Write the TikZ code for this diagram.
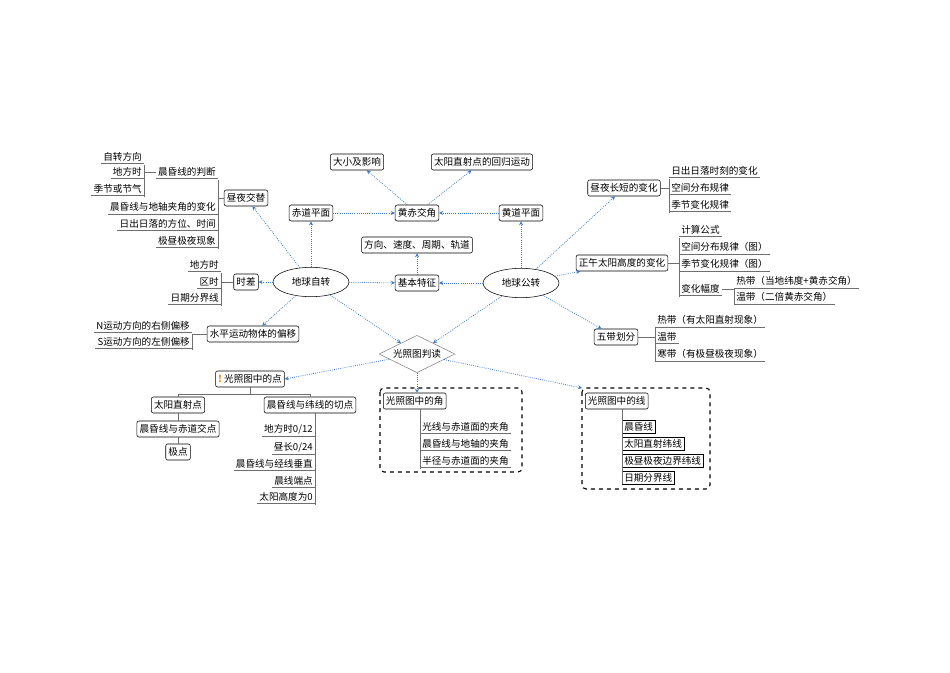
\documentclass[tikz,border=0pt]{standalone}
\usepackage{fontspec}
\setmainfont{Noto Sans CJK SC}
\usetikzlibrary{shapes.geometric,arrows.meta}
\definecolor{linkblue}{RGB}{60,120,200}
\definecolor{treegray}{RGB}{110,110,110}
\begin{document}
\begin{tikzpicture}[x=0.75pt,y=-0.75pt,font=\fontsize{7.2}{8}\selectfont,
  box/.style={draw,rounded corners=1.5pt,inner sep=2pt,minimum height=12pt,fill=white},
  topic/.style={draw,ellipse,minimum width=57pt,minimum height=22pt,inner sep=1pt},
  link/.style={draw=linkblue,densely dotted,semithick,-{Stealth[length=3pt,width=3pt]}},
  tree/.style={draw=treegray},
  leaf/.style={inner sep=1.5pt,append after command={(\tikzlastnode.south west) edge[treegray] (\tikzlastnode.south east)}},
  lbox/.style={draw,inner sep=1.5pt,minimum height=10pt},
  group/.style={draw,dashed,thick,rounded corners=3pt}]
\useasboundingbox (0,0) rectangle (950,672);
% central topics
\node (rot) [topic] at (311,282) {地球自转};
\node (rev) [topic] at (521,283) {地球公转};
\node (basic) [box] at (417,283) {基本特征};
\node (dir) [box] at (417,245) {方向、速度、周期、轨道};
\node (tilt) [box] at (417,213) {黄赤交角};
\node (eqp) [box] at (311,213) {赤道平面};
\node (ecl) [box] at (521,213) {黄道平面};
\node (size) [box] at (357,162) {大小及影响};
\node (subsol) [box] at (482,162) {太阳直射点的回归运动};
\node (dn) [box] at (246,198) {昼夜交替};
\node (tdiff) [box] at (246,282) {时差};
\node (defl) [box] at (253,334) {水平运动物体的偏移};
\node (read) [draw,diamond,aspect=2.1,minimum width=57pt,minimum height=28pt,inner sep=0pt,draw=gray] at (417,354) {光照图判读};
\node (dlen) [box] at (624,188) {昼夜长短的变化};
\node (noon) [box] at (622,263) {正午太阳高度的变化};
\node (zone) [box] at (616,337) {五带划分};
% links
\foreach \a/\b in {rot/dn,rot/eqp,rot/tdiff,rot/defl,rot/basic,rot/read,
  eqp/tilt,ecl/tilt,tilt/size,tilt/subsol,basic/dir,
  rev/basic,rev/ecl,rev/dlen,rev/noon,rev/zone,rev/read}
  \draw[link] (\a) -- (\b);
% left: day and night
\node (judge) [leaf,anchor=east] at (218,172) {晨昏线的判断};
\foreach \t/\y in {自转方向/157,地方时/172,季节或节气/189}
  \node [leaf,anchor=east] at (144,\y) {\t};
\draw[tree] (144,165) -- (144,197);
\draw[tree] (judge.west) -- (144,172);
\foreach \t/\y in {晨昏线与地轴夹角的变化/207,日出日落的方位、时间/224,极昼极夜现象/241}
  \node [leaf,anchor=east] at (218,\y) {\t};
\draw[tree] (218,180) -- (218,249);
\draw[tree] (dn.west) -- (218,198);
% left: time difference
\foreach \t/\y in {地方时/265,区时/282,日期分界线/298}
  \node [leaf,anchor=east] at (221,\y) {\t};
\draw[tree] (221,273) -- (221,306);
\draw[tree] (tdiff.west) -- (221,282);
% left: deflection
\foreach \t/\y in {N运动方向的右侧偏移/326,S运动方向的左侧偏移/342}
  \node [leaf,anchor=east] at (192,\y) {\t};
\draw[tree] (192,334) -- (192,350);
\draw[tree] (defl.west) -- (192,334);
% right: day length
\foreach \t/\y in {日出日落时刻的变化/171,空间分布规律/188,季节变化规律/205}
  \node [leaf,anchor=west] at (669,\y) {\t};
\draw[tree] (669,179) -- (669,213);
\draw[tree] (dlen.east) -- (669,188);
% right: noon sun height
\foreach \t/\y in {计算公式/230,空间分布规律（图）/247,季节变化规律（图）/264}
  \node [leaf,anchor=west] at (679,\y) {\t};
\node (range) [leaf,anchor=west] at (679,289) {变化幅度};
\draw[tree] (679,238) -- (679,297);
\draw[tree] (noon.east) -- (679,263);
\foreach \t/\y in {热带（当地纬度+黄赤交角）/281,温带（二倍黄赤交角）/297}
  \node [leaf,anchor=west] at (734,\y) {\t};
\draw[tree] (734,289) -- (734,305);
\draw[tree] (range.east) -- (734,289);
% right: five zones
\foreach \t/\y in {热带（有太阳直射现象）/320,温带/337,寒带（有极昼极夜现象）/354}
  \node [leaf,anchor=west] at (655,\y) {\t};
\draw[tree] (655,328) -- (655,362);
\draw[tree] (zone.east) -- (655,337);
% points on the map
\node (pts) [box] at (250,379) {\textcolor{orange}{\textbf{!}}\ 光照图中的点};
\node (sp) [box] at (178,405) {太阳直射点};
\node (tang) [box] at (310,405) {晨昏线与纬线的切点};
\node (eqx) [box] at (178,429) {晨昏线与赤道交点};
\node (pole) [box] at (178,452) {极点};
\draw[link] (read) -- (pts.east);
\draw[tree] (pts.south) -- (250,394) -| (sp.north);
\draw[tree] (250,394) -| (tang.north);
\draw[tree] (sp) -- (eqx);
\draw[tree] (eqx) -- (pole);
\foreach \t/\y in {{地方时0/12}/429,{昼长0/24}/447,晨昏线与经线垂直/464,晨线端点/481,太阳高度为0/497}
  \node [leaf,anchor=east] at (315,\y) {\t};
\draw[tree] (tang.south -| 315,0) -- (315,505);
% angles on the map
\draw[group] (380,388) rectangle (522,472);
\node (ang) [box,anchor=west] at (383,401) {光照图中的角};
\draw[link] (read) -- (ang.north -| 417,0);
\foreach \t/\y in {光线与赤道面的夹角/427,晨昏线与地轴的夹角/444,半径与赤道面的夹角/461}
  \node [leaf,anchor=west] at (420,\y) {\t};
\draw[tree] (ang.south -| 420,0) -- (420,469);
% lines on the map
\draw[group] (582,388) rectangle (710,489);
\node (lns) [box,anchor=west] at (585,401) {光照图中的线};
\draw[link] (read) -- (582,388);
\foreach \t/\y in {晨昏线/427,太阳直射纬线/444,极昼极夜边界纬线/461,日期分界线/478}
  \node [lbox,anchor=west] at (622,\y) {\t};
\draw[tree] (lns.south -| 622,0) -- (622,484);
\end{tikzpicture}
\end{document}
